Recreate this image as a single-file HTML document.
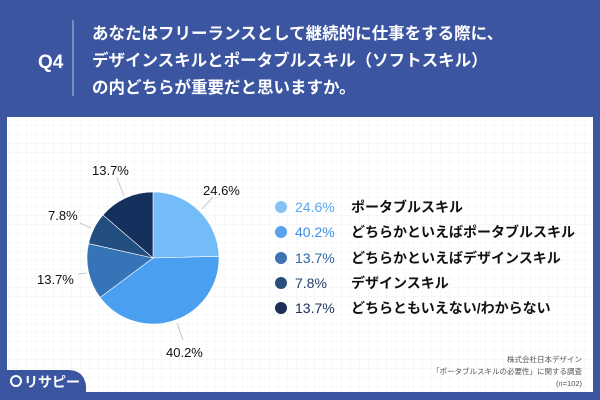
<!DOCTYPE html>
<html><head><meta charset="utf-8"><style>
body{margin:0;width:600px;height:400px;overflow:hidden;background:#3b55a0;font-family:"Liberation Sans","Noto Sans CJK JP",sans-serif}
</style></head><body>
<svg width="600" height="400" xmlns="http://www.w3.org/2000/svg" style="position:absolute;left:0;top:0">
<defs><pattern id="g" width="9" height="9" patternUnits="userSpaceOnUse"><path d="M9 0V9H0" fill="none" stroke="#eef0f4" stroke-width="1"/></pattern></defs>
<rect width="600" height="400" fill="#3b55a0"/>
<rect x="7" y="117" width="586" height="275" fill="#fff"/>
<rect x="7" y="117" width="586" height="275" fill="url(#g)"/>
<line x1="73" y1="20" x2="73" y2="96" stroke="#8fa0cc" stroke-width="1.5"/>
<text x="38" y="68" font-size="19" font-weight="bold" fill="#fff">Q4</text>
<g font-size="16.5" font-weight="bold" fill="#fff" font-family="Liberation Sans,Noto Sans CJK JP,sans-serif">
<text x="92" y="39">あなたはフリーランスとして継続的に仕事をする際に、</text>
<text x="92" y="66">デザインスキルとポータブルスキル（ソフトスキル）</text>
<text x="92" y="93">の内どちらが重要だと思いますか。</text>
</g>
<g stroke="#fff" stroke-width="0.6">
<path d="M153 258V192A66 66 0 0 1 218.98 256.34Z" fill="#74bcf7"/>
<path d="M153 258L218.98 256.34A66 66 0 0 1 100.09 297.46Z" fill="#4a9ff0"/>
<path d="M153 258L100.09 297.46A66 66 0 0 1 88.59 243.6Z" fill="#3574b6"/>
<path d="M153 258L88.59 243.6A66 66 0 0 1 102.97 214.96Z" fill="#234f80"/>
<path d="M153 258L102.97 214.96A66 66 0 0 1 153 192Z" fill="#15305c"/>
</g>
<g stroke="#bbb" stroke-width="0.8">
<line x1="202" y1="209" x2="213" y2="197"/>
<line x1="177" y1="323" x2="183" y2="340"/>
<line x1="87" y1="273" x2="78" y2="274"/>
<line x1="91" y1="228" x2="80" y2="223"/>
<line x1="124" y1="196" x2="117" y2="178"/>
</g>
<g font-size="13" fill="#111">
<text x="203" y="195">24.6%</text>
<text x="166" y="357">40.2%</text>
<text x="37" y="284">13.7%</text>
<text x="48" y="220">7.8%</text>
<text x="92" y="175">13.7%</text>
</g>
<g font-size="14">
<circle cx="281" cy="207" r="6" fill="#86c1f4"/><text x="295" y="212" fill="#5aa8f0">24.6%</text><text x="351" y="212" fill="#111" font-weight="bold">ポータブルスキル</text>
<circle cx="281" cy="232" r="6" fill="#5aa2ee"/><text x="295" y="237" fill="#3a8ee8">40.2%</text><text x="351" y="237" fill="#111" font-weight="bold">どちらかといえばポータブルスキル</text>
<circle cx="281" cy="258" r="6" fill="#3f72b0"/><text x="295" y="263" fill="#2f64a8">13.7%</text><text x="351" y="263" fill="#111" font-weight="bold">どちらかといえばデザインスキル</text>
<circle cx="281" cy="283" r="6" fill="#2b4d7c"/><text x="295" y="288" fill="#213f6e">7.8%</text><text x="351" y="288" fill="#111" font-weight="bold">デザインスキル</text>
<circle cx="281" cy="308" r="6" fill="#1b2f58"/><text x="295" y="313" fill="#1b2f58">13.7%</text><text x="351" y="313" fill="#111" font-weight="bold">どちらともいえない/わからない</text>
</g>
<g font-size="7.5" fill="#555" text-anchor="end">
<text x="582" y="362">株式会社日本デザイン</text>
<text x="582" y="374">「ポータブルスキルの必要性」に関する調査</text>
<text x="582" y="386">(n=102)</text>
</g>
<path d="M0 370H68Q84 370 86 386V400H0Z" fill="#3b55a0"/>
<circle cx="16" cy="381" r="5" fill="none" stroke="#fff" stroke-width="2"/>
<text x="24" y="387" font-size="14" font-weight="bold" fill="#fff">リサピー</text>
</svg>
</body></html>
